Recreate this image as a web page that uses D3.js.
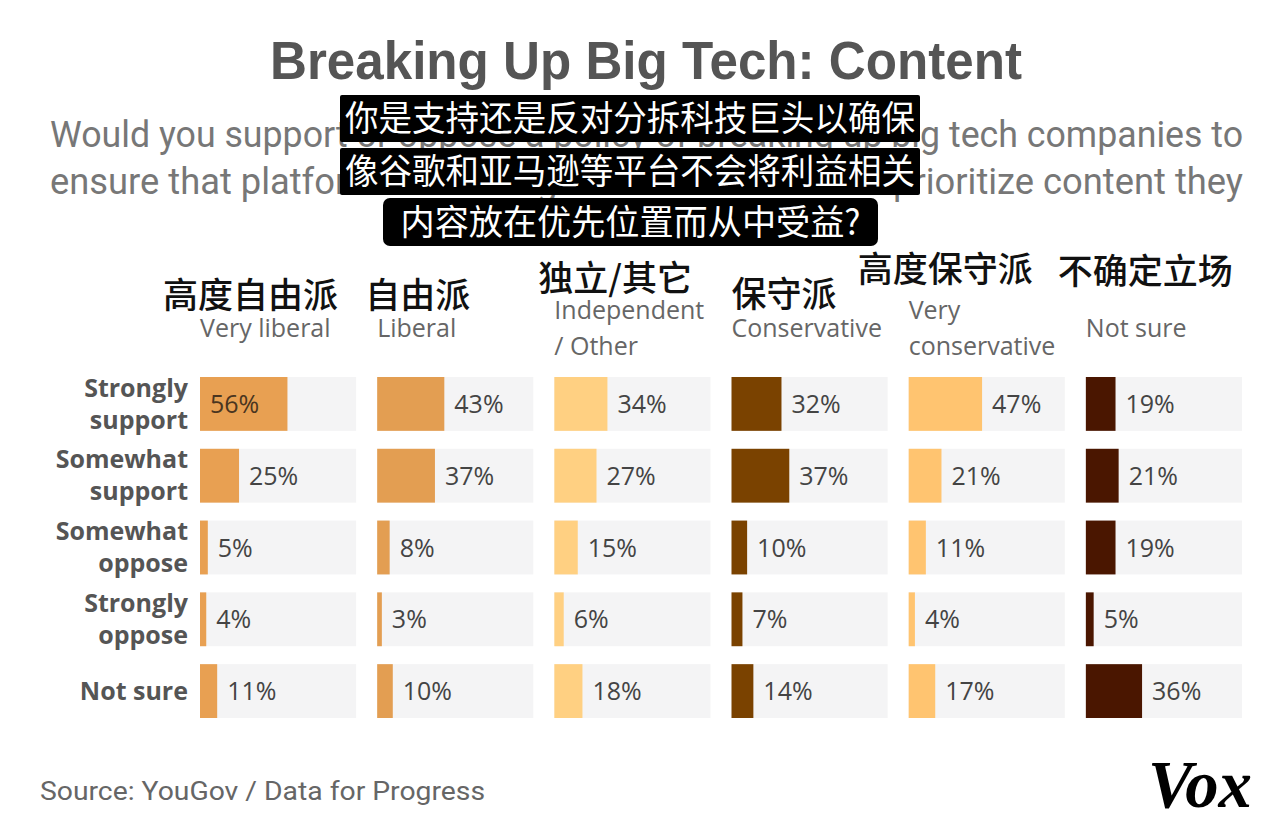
<!DOCTYPE html>
<html>
<head>
<meta charset="utf-8">
<script src="https://cdn.jsdelivr.net/npm/d3@7"></script>
<style>
  html, body { margin: 0; padding: 0; background: #fff; }
  svg { display: block; }
</style>
</head>
<body>
<svg id="chart" width="1288" height="834"></svg>
<script>
// ---------------- DATA ----------------
const title = "Breaking Up Big Tech: Content";
const subtitleLines = [
  "Would you support or oppose a policy of breaking up big tech companies to",
  "ensure that platforms like Google and Amazon don't prioritize content they"
];
const captionLines = [
  "你是支持还是反对分拆科技巨头以确保",
  "像谷歌和亚马逊等平台不会将利益相关",
  "内容放在优先位置而从中受益?"
];
const groups = ["Very liberal", "Liberal", "Independent / Other", "Conservative", "Very conservative", "Not sure"];
const groupLabelLines = [["Very liberal"], ["Liberal"], ["Independent", "/ Other"], ["Conservative"], ["Very", "conservative"], ["Not sure"]];
const groupLabelsZh = ["高度自由派", "自由派", "独立/其它", "保守派", "高度保守派", "不确定立场"];
const responses = ["Strongly support", "Somewhat support", "Somewhat oppose", "Strongly oppose", "Not sure"];
const responseLabelLines = [["Strongly", "support"], ["Somewhat", "support"], ["Somewhat", "oppose"], ["Strongly", "oppose"], ["Not sure"]];
const veryLiberal      = [56, 25, 5, 4, 11];
const liberal          = [43, 37, 8, 3, 10];
const independent      = [34, 27, 15, 6, 18];
const conservative     = [32, 37, 10, 7, 14];
const veryConservative = [47, 21, 11, 4, 17];
const notSure          = [19, 21, 19, 5, 36];
const source = "Source: YouGov / Data for Progress";

// ---------------- STYLE / LAYOUT ----------------
const seriesValues = [veryLiberal, liberal, independent, conservative, veryConservative, notSure];
const colors = ["#E8A052", "#E39E52", "#FFD082", "#7A4200", "#FFC470", "#4A1600"];
// Chinese overlay label placement (offset of left edge from column start, and centre y)
const zhDx = [-37, -12, -16, 0, -51, -28];
const zhY  = [295, 295, 278, 294, 269, 271];

const svg = d3.select("#chart");
svg.append("rect").attr("width", 1288).attr("height", 834).attr("fill", "#fff");

const col = d3.scaleBand().domain(groups).range([200, 1242]).paddingInner(21 / 177);
const row = d3.scaleBand().domain(responses).range([377, 718]).paddingInner(0.25);
const x = d3.scaleLinear().domain([0, 100]).range([0, col.bandwidth()]);

// Title
svg.append("text")
  .attr("x", 270).attr("y", 79)
  .attr("textLength", 752).attr("lengthAdjust", "spacingAndGlyphs")
  .attr("font-family", "Liberation Sans, Arial, sans-serif")
  .attr("font-weight", 700).attr("font-size", 54)
  .attr("fill", "#555")
  .text(title);

// Subtitle
svg.selectAll("text.sub").data(subtitleLines).join("text")
  .attr("class", "sub")
  .attr("x", 50).attr("y", (d, i) => 147 + i * 47)
  .attr("textLength", 1193).attr("lengthAdjust", "spacingAndGlyphs")
  .attr("font-family", "Roboto, 'Liberation Sans', sans-serif")
  .attr("font-weight", 400).attr("font-size", 36)
  .attr("fill", "#777")
  .text(d => d);

// Caption overlay boxes
const capBoxes = [
  {x: 340, y: 95, w: 580, h: 47},
  {x: 340, y: 148, w: 580, h: 47},
  {x: 383, y: 198, w: 495, h: 48}
];
const cap = svg.selectAll("g.cap").data(captionLines).join("g").attr("class", "cap");
cap.append("rect")
  .attr("x", (d, i) => capBoxes[i].x).attr("y", (d, i) => capBoxes[i].y)
  .attr("width", (d, i) => capBoxes[i].w).attr("height", (d, i) => capBoxes[i].h)
  .attr("rx", (d, i) => i === 2 ? 7 : 2)
  .attr("fill", "#000");
cap.append("text")
  .attr("x", (d, i) => capBoxes[i].x + capBoxes[i].w / 2)
  .attr("y", (d, i) => capBoxes[i].y + capBoxes[i].h / 2)
  .attr("dy", "0.36em")
  .attr("text-anchor", "middle")
  .attr("textLength", (d, i) => i === 2 ? 460 : 570)
  .attr("lengthAdjust", "spacingAndGlyphs")
  .attr("font-family", "'Noto Sans CJK SC', sans-serif")
  .attr("font-size", 35)
  .attr("fill", "#fff")
  .text(d => d);

// Column headers (Chinese)
svg.selectAll("text.zh").data(groupLabelsZh).join("text")
  .attr("class", "zh")
  .attr("x", (d, i) => col(groups[i]) + zhDx[i])
  .attr("y", (d, i) => zhY[i])
  .attr("dy", "0.36em")
  .attr("font-family", "'Noto Sans CJK SC', sans-serif")
  .attr("font-weight", 500)
  .attr("font-size", 35)
  .attr("fill", "#111")
  .text(d => d);

// Column headers (English)
const hdr = svg.selectAll("text.hdr").data(groupLabelLines).join("text")
  .attr("class", "hdr")
  .attr("font-family", "'Open Sans', sans-serif")
  .attr("font-size", 25)
  .attr("fill", "#666");
hdr.selectAll("tspan").data((d, i) => d.map((t, j) => ({t, j, n: d.length, g: groups[i]}))).join("tspan")
  .attr("x", d => col(d.g))
  .attr("y", d => 328 + (d.j - (d.n - 1) / 2) * 36)
  .attr("dy", "0.35em")
  .text(d => d.t);

// Row labels
const rl = svg.selectAll("text.rl").data(responseLabelLines).join("text")
  .attr("class", "rl")
  .attr("text-anchor", "end")
  .attr("font-family", "'Open Sans', sans-serif")
  .attr("font-weight", 700)
  .attr("font-size", 25)
  .attr("fill", "#555");
rl.selectAll("tspan").data((d, i) => d.map((t, j) => ({t, j, n: d.length, r: responses[i]}))).join("tspan")
  .attr("x", 188)
  .attr("y", d => row(d.r) + row.bandwidth() / 2 + (d.j - (d.n - 1) / 2) * 32)
  .attr("dy", "0.35em")
  .text(d => d.t);

// Panels
groups.forEach((g, gi) => {
  const panel = svg.append("g").attr("transform", `translate(${col(g)},0)`);
  const data = seriesValues[gi].map((v, ri) => ({v, r: responses[ri]}));
  panel.selectAll("rect.bg").data(data).join("rect")
    .attr("class", "bg")
    .attr("x", 0).attr("y", d => row(d.r))
    .attr("width", x(100)).attr("height", row.bandwidth())
    .attr("fill", "#F4F4F5");
  panel.selectAll("rect.bar").data(data).join("rect")
    .attr("class", "bar")
    .attr("x", 0).attr("y", d => row(d.r))
    .attr("width", d => x(d.v)).attr("height", row.bandwidth())
    .attr("fill", colors[gi]);
  panel.selectAll("text.val").data(data).join("text")
    .attr("class", "val")
    .attr("x", d => d.v > 50 ? 10 : x(d.v) + 10)
    .attr("y", d => row(d.r) + row.bandwidth() / 2)
    .attr("dy", "0.36em")
    .attr("font-family", "'Open Sans', sans-serif")
    .attr("font-size", 25)
    .attr("fill", d => d.v > 50 ? "#4a3520" : "#444")
    .text(d => d.v + "%");
});

// Source
svg.append("text")
  .attr("x", 40).attr("y", 791).attr("dy", "0.35em")
  .attr("textLength", 445).attr("lengthAdjust", "spacingAndGlyphs")
  .attr("font-family", "Roboto, sans-serif")
  .attr("font-size", 26)
  .attr("fill", "#666")
  .text(source);

// Vox logo
svg.append("text")
  .attr("x", 1148).attr("y", 807)
  .attr("textLength", 104).attr("lengthAdjust", "spacingAndGlyphs")
  .attr("font-family", "'Liberation Serif', 'DejaVu Serif', serif")
  .attr("font-weight", 700).attr("font-style", "italic")
  .attr("font-size", 68)
  .attr("fill", "#000")
  .text("Vox");
</script>
</body>
</html>
